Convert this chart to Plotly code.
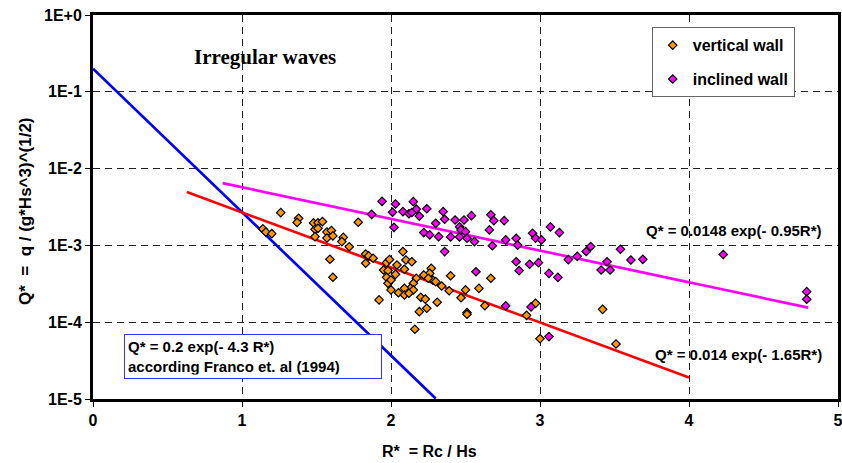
import numpy as np
import plotly.graph_objects as go

# ---------------- data ----------------
vert_R = [1.14, 1.16, 1.20, 1.26, 1.38, 1.37, 1.48, 1.51, 1.54, 1.49, 1.51, 1.49, 1.57, 1.60,
          1.57, 1.61, 1.68, 1.67, 1.72, 1.78, 1.59, 1.61, 1.83, 1.85, 1.83, 1.88, 1.97, 1.99,
          1.95, 1.98, 1.97, 1.98, 2.00, 1.92, 2.08, 2.10, 2.14, 2.04, 2.09, 2.03, 2.00, 2.27,
          2.26, 2.22, 2.28, 2.30, 2.34, 2.40, 2.25, 2.17, 2.15, 2.13, 2.09, 2.05, 2.09, 2.15,
          2.12, 2.20, 2.23, 2.31, 2.24, 2.19, 2.39, 2.50, 2.47, 2.59, 2.67, 2.63, 2.51, 2.51,
          2.91, 2.97, 2.16, 3.00, 3.42, 3.51]
vert_Q = [1.64e-3, 1.49e-3, 1.42e-3, 2.67e-3, 2.25e-3, 1.99e-3, 1.96e-3, 1.97e-3, 2.04e-3, 1.62e-3,
          1.67e-3, 1.30e-3, 1.49e-3, 1.56e-3, 1.25e-3, 1.33e-3, 1.27e-3, 1.12e-3, 9.6e-4, 2.0e-3,
          6.6e-4, 3.85e-4, 7.7e-4, 7.3e-4, 5.85e-4, 6.8e-4, 5.96e-4, 6.55e-4, 4.78e-4, 4.69e-4,
          3.84e-4, 3.21e-4, 2.63e-4, 1.95e-4, 8.3e-4, 6.45e-4, 6.13e-4, 5.56e-4, 4.89e-4, 4.20e-4,
          3.54e-4, 5.03e-4, 4.33e-4, 4.12e-4, 3.54e-4, 3.37e-4, 2.96e-4, 4.03e-4, 3.73e-4, 3.73e-4,
          3.21e-4, 2.76e-4, 2.76e-4, 2.42e-4, 2.26e-4, 2.63e-4, 2.38e-4, 2.11e-4, 2.0e-4, 1.82e-4,
          1.52e-4, 1.37e-4, 2.57e-4, 2.63e-4, 2.08e-4, 2.76e-4, 3.73e-4, 1.64e-4, 1.33e-4, 1.27e-4,
          1.23e-4, 1.76e-4, 8.1e-5, 6.1e-5, 1.47e-4, 5.2e-5]

incl_R = [1.87, 1.94, 2.03, 2.01, 2.02, 2.08, 2.12, 2.15, 2.17, 2.14, 2.19, 2.24, 2.30, 2.35,
          2.36, 2.43, 2.49, 2.54, 2.22, 2.26, 2.32, 2.40, 2.46, 2.46, 2.47, 2.50, 2.51, 2.56,
          2.67, 2.69, 2.76, 2.66, 2.68, 2.77, 2.84, 2.85, 2.95, 2.97, 3.01, 3.07, 3.13, 2.36,
          2.84, 2.86, 2.93, 2.99, 2.57, 3.06, 3.12, 2.77, 2.94, 3.06, 3.19, 3.25, 3.31, 3.34,
          3.45, 3.41, 3.47, 3.54, 3.61, 3.69, 4.23, 4.79, 4.79]
incl_Q = [2.54e-3, 3.75e-3, 3.46e-3, 2.70e-3, 1.72e-3, 2.75e-3, 2.58e-3, 3.71e-3, 2.96e-3, 2.68e-3,
          2.41e-3, 3.0e-3, 1.94e-3, 2.75e-3, 2.19e-3, 2.14e-3, 2.14e-3, 2.44e-3, 1.47e-3, 1.37e-3,
          1.30e-3, 1.29e-3, 1.29e-3, 1.75e-3, 1.59e-3, 1.51e-3, 1.24e-3, 1.12e-3, 2.51e-3, 2.10e-3,
          2.10e-3, 1.59e-3, 9.9e-4, 1.18e-3, 1.24e-3, 1.01e-3, 1.44e-3, 1.24e-3, 1.18e-3, 1.74e-3,
          1.47e-3, 8.3e-4, 6.13e-4, 4.69e-4, 5.69e-4, 5.96e-4, 4.54e-4, 4.33e-4, 3.84e-4, 1.63e-4,
          1.58e-4, 6.5e-5, 6.53e-4, 7.21e-4, 8.33e-4, 9.68e-4, 6.13e-4, 4.78e-4, 4.78e-4, 8.9e-4,
          6.45e-4, 6.59e-4, 7.61e-4, 2.5e-4, 1.99e-4]

# fitted / reference curves: Q* = a * exp(-b R*)
franco = dict(a=0.2, b=4.3, r0=0.0, r1=2.30)
fit_vert = dict(a=0.014, b=1.65, r0=0.63, r1=4.0)
fit_incl = dict(a=0.0148, b=0.95, r0=0.87, r1=4.8)

x_ticks = [0, 1, 2, 3, 4, 5]
y_tickvals = [1, 1e-1, 1e-2, 1e-3, 1e-4, 1e-5]
y_ticktext = ["1E+0", "1E-1", "1E-2", "1E-3", "1E-4", "1E-5"]

FONT = "Arial, Liberation Sans, sans-serif"


def curve(c):
    r = np.linspace(c["r0"], c["r1"], 200)
    return r, c["a"] * np.exp(-c["b"] * r)


fig = go.Figure()

for c, col in [(franco, "#0000FF"), (fit_vert, "#FF0000"), (fit_incl, "#FF00FF")]:
    r, q = curve(c)
    fig.add_trace(go.Scatter(x=r, y=q, mode="lines", line=dict(color=col, width=2.7),
                             showlegend=False, hoverinfo="skip"))

fig.add_trace(go.Scatter(x=vert_R, y=vert_Q, mode="markers", name="vertical wall",
                         legendgroup="a",
                         marker=dict(symbol="diamond", size=6.5, color="#FF9900",
                                     line=dict(color="black", width=1.2))))
fig.add_trace(go.Scatter(x=incl_R, y=incl_Q, mode="markers", name="inclined wall",
                         legendgroup="b",
                         marker=dict(symbol="diamond", size=6.5, color="#FF00FF",
                                     line=dict(color="black", width=1.2))))

axis_common = dict(ticks="outside", ticklen=5, tickwidth=1, tickcolor="black",
                   showline=True, linewidth=3, linecolor="black", mirror=True,
                   showgrid=True, gridcolor="#222222", gridwidth=1, griddash="7px,5px",
                   zeroline=False, automargin=False, ticklabeloverflow="allow",
                   tickfont=dict(family=FONT, size=16, color="black", weight="bold"))

fig.update_layout(
    width=842, height=463,
    margin=dict(l=93, r=4, t=15, b=64),
    paper_bgcolor="white", plot_bgcolor="white",
    font=dict(family=FONT, size=15, color="black"),
    showlegend=True,
    legend=dict(x=0.75, y=0.968, xanchor="left", yanchor="top",
                bgcolor="white", bordercolor="#666666", borderwidth=1,
                font=dict(family=FONT, size=16, color="black", weight="bold"),
                tracegroupgap=10, itemwidth=30),
    xaxis=dict(range=[0, 5], tickvals=x_ticks, **axis_common),
    yaxis=dict(type="log", range=[-5, 0], tickvals=y_tickvals, ticktext=y_ticktext,
               **axis_common),
)

fig.add_annotation(text="<b>R*  = Rc / Hs</b>", xref="paper", yref="paper",
                   x=(429 - 93) / 745, y=-0.138, xanchor="center", yanchor="middle",
                   showarrow=False, font=dict(family=FONT, size=16))
fig.add_annotation(text="<b>Q*  =  q / (g*Hs^3)^(1/2)</b>", xref="paper", yref="paper",
                   x=(25 - 93) / 745, y=(399 - 211) / 384, xanchor="center", yanchor="middle",
                   textangle=-90, showarrow=False, font=dict(family=FONT, size=17))
fig.add_annotation(text="<b>Irregular waves</b>", x=1.157, y=-0.547, showarrow=False,
                   xanchor="center", yanchor="middle",
                   font=dict(family="Liberation Serif, Times New Roman, serif", size=21))
fig.add_annotation(text="<b>Q* = 0.0148 exp(- 0.95R*)</b>", x=4.907, y=-2.80, showarrow=False,
                   xanchor="right", yanchor="middle", font=dict(family=FONT, size=15))
fig.add_annotation(text="<b>Q* = 0.014 exp(- 1.65R*)</b>", x=4.907, y=-4.414, showarrow=False,
                   xanchor="right", yanchor="middle", font=dict(family=FONT, size=15))
fig.add_annotation(text="<b>Q* = 0.2 exp(- 4.3 R*)<br>according Franco et. al (1994)</b>",
                   x=0.206, y=-4.154, showarrow=False, xanchor="left", yanchor="top",
                   align="left", bgcolor="white", bordercolor="#3333FF", borderwidth=1,
                   borderpad=3, width=250, font=dict(family=FONT, size=15))

fig.write_html("out.html", config={"displayModeBar": False},
               post_script="document.body.style.margin='0px';document.body.style.overflow='hidden';")
